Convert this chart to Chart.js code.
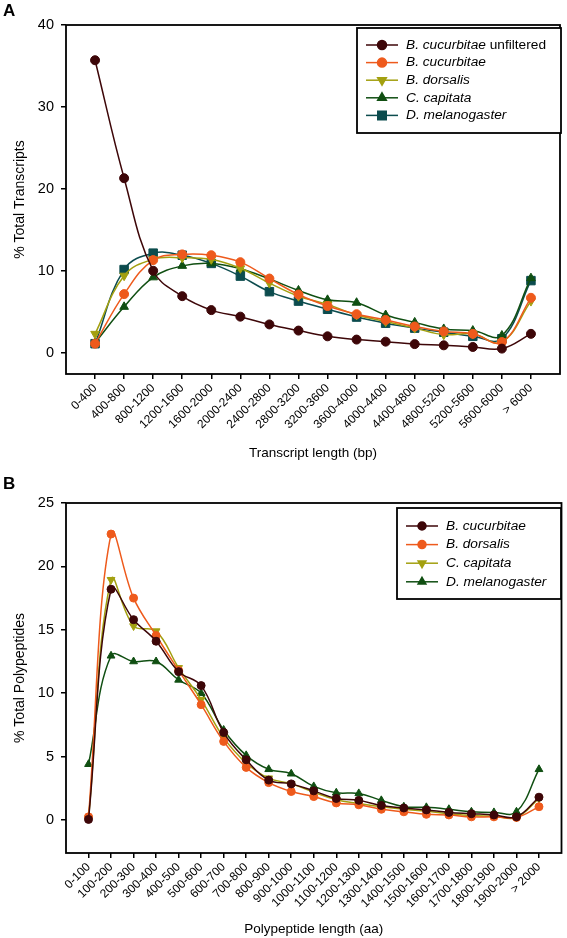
<!DOCTYPE html>
<html>
<head>
<meta charset="utf-8">
<script src="https://cdn.jsdelivr.net/npm/chart.js@4"></script>
<style>
  body { margin: 0; background: #fff; width: 567px; height: 938px; position: relative; overflow: hidden; font-family: "Liberation Sans", Arial, sans-serif; }
  .panel { position: absolute; left: 0; width: 567px; }
  .tag { position: absolute; left: 3px; font-weight: bold; font-size: 17px; line-height: 18px; }
</style>
</head>
<body>
<div class="panel" style="top:0;height:470px"><canvas id="graf_A"></canvas></div>
<div class="panel" style="top:470px;height:468px"><canvas id="graf_B"></canvas></div>
<div class="tag" style="top:2px">A</div>
<div class="tag" style="top:475px">B</div>

<script>
// panel A - transcript length
const catsA = ['0-400', '400-800', '800-1200', '1200-1600', '1600-2000', '2000-2400', '2400-2800', '2800-3200',
  '3200-3600', '3600-4000', '4000-4400', '4400-4800', '4800-5200', '5200-5600', '5600-6000', '> 6000']
const unfiltA = [35.7, 21.3, 10.0, 6.9, 5.2, 4.4, 3.45, 2.7, 2.0, 1.6, 1.35, 1.05, 0.9, 0.7, 0.5, 2.3]
const bcucA = [1.1, 7.15, 11.3, 12.0, 11.9, 11.05, 9.05, 7.1, 5.7, 4.7, 4.0, 3.2, 2.6, 2.3, 1.3, 6.7]
const bdorsA = [2.3, 9.4, 11.4, 11.6, 11.4, 10.3, 8.5, 6.9, 5.9, 4.6, 3.8, 3.0, 2.2, 2.3, 1.3, 6.3]
const ccapA = [1.2, 5.6, 9.2, 10.6, 10.9, 10.25, 9.0, 7.6, 6.45, 6.1, 4.6, 3.7, 2.9, 2.7, 2.1, 9.1]
const dmelA = [1.1, 10.15, 12.15, 11.9, 10.9, 9.35, 7.45, 6.3, 5.3, 4.35, 3.6, 3.0, 2.5, 2.0, 1.7, 8.8]
const yTicksA = [0, 10, 20, 30, 40]

// panel B - polypeptide length
const catsB = ['0-100', '100-200', '200-300', '300-400', '400-500', '500-600', '600-700', '700-800', '800-900',
  '900-1000', '1000-1100', '1100-1200', '1200-1300', '1300-1400', '1400-1500', '1500-1600', '1600-1700',
  '1700-1800', '1800-1900', '1900-2000', '> 2000']
const bcucB = [0.05, 18.2, 15.8, 14.1, 11.7, 10.6, 6.9, 4.75, 3.15, 2.85, 2.3, 1.7, 1.55, 1.15, 0.95, 0.8, 0.6, 0.5, 0.4, 0.25, 1.8]
const bdorsB = [0.25, 22.55, 17.5, 14.55, 11.8, 9.1, 6.2, 4.15, 2.95, 2.25, 1.85, 1.35, 1.2, 0.85, 0.65, 0.45, 0.4, 0.25, 0.25, 0.2, 1.05]
const ccapB = [0.15, 18.95, 15.3, 14.9, 12.0, 9.5, 6.5, 4.5, 3.3, 2.85, 2.2, 1.6, 1.3, 1.05, 0.85, 0.7, 0.5, 0.35, 0.3, 0.2, 1.7]
const dmelB = [4.4, 12.95, 12.5, 12.5, 11.05, 10.0, 7.1, 5.1, 4.0, 3.65, 2.65, 2.15, 2.1, 1.55, 1.05, 1.0, 0.85, 0.65, 0.6, 0.65, 4.0]
const yTicksB = [0, 5, 10, 15, 20, 25]

const maroon = '#3d0608'
const orange = '#ee5a1c'
const olive = '#a3a010'
const green = '#104f12'
const teal = '#0c4c4e'

const FONT = '"Liberation Sans", Arial, sans-serif'

function serie(nome, extra, valores, cor, estilo, raio, rot) {
  return {
    label: nome,
    extra: extra,
    data: valores.map((v, i) => ({ x: i, y: v })),
    borderColor: cor,
    backgroundColor: cor,
    pointBackgroundColor: cor,
    pointBorderColor: cor,
    pointStyle: estilo,
    pointRadius: raio,
    pointRotation: rot || 0,
    pointBorderWidth: 1,
    borderWidth: 1.5,
    tension: 0.4
  }
}

// frame round the plot area + legend box inside it
const moldura = {
  id: 'moldura',
  afterDraw(chart, args, opts) {
    const ctx = chart.ctx
    const a = chart.chartArea
    ctx.save()
    ctx.strokeStyle = '#000'
    ctx.lineWidth = 1.8
    ctx.strokeRect(a.left, a.top, a.right - a.left, a.bottom - a.top)

    const lg = opts.legenda
    ctx.fillStyle = '#fff'
    ctx.fillRect(lg.x, lg.y, lg.w, lg.h)
    ctx.lineWidth = 1.8
    ctx.strokeRect(lg.x, lg.y, lg.w, lg.h)
    chart.data.datasets.forEach((ds, i) => {
      const y = lg.y0 + i * lg.passo
      ctx.strokeStyle = ds.borderColor
      ctx.lineWidth = 1.5
      ctx.beginPath()
      ctx.moveTo(lg.x1, y)
      ctx.lineTo(lg.x2, y)
      ctx.stroke()
      ctx.fillStyle = ds.borderColor
      ctx.strokeStyle = ds.borderColor
      Chart.helpers.drawPoint(ctx, { pointStyle: ds.pointStyle, radius: ds.pointRadius, rotation: ds.pointRotation, borderWidth: 1 }, (lg.x1 + lg.x2) / 2, y)
      ctx.fillStyle = '#000'
      ctx.textBaseline = 'middle'
      ctx.font = 'italic 13.7px ' + FONT
      ctx.fillText(ds.label, lg.tx, y)
      if (ds.extra) {
        const w = ctx.measureText(ds.label).width
        ctx.font = '13.7px ' + FONT
        ctx.fillText(ds.extra, lg.tx + w, y)
      }
    })
    ctx.restore()
  }
}

function criarGraf(id, cats, datasets, yMin, yMax, yTicks, xTitulo, yTitulo, cfg) {
  return new Chart(document.getElementById(id), {
    type: 'line',
    data: { datasets: datasets },
    plugins: [moldura],
    options: {
      responsive: true,
      maintainAspectRatio: false,
      animation: false,
      layout: { padding: { top: cfg.top, right: 4, left: 0, bottom: 0 } },
      plugins: {
        legend: { display: false },
        tooltip: { enabled: false },
        moldura: { legenda: cfg.legenda }
      },
      scales: {
        x: {
          type: 'linear',
          min: -1,
          max: cats.length,
          afterBuildTicks: (s) => { s.ticks = cats.map((c, i) => ({ value: i })) },
          afterFit: (s) => { s.height = cfg.xAltura },
          border: { display: false },
          grid: { drawOnChartArea: false, drawTicks: true, tickLength: 5, color: '#000', lineWidth: 1.5 },
          ticks: {
            autoSkip: false,
            maxRotation: 45,
            minRotation: 45,
            padding: 2,
            color: '#000',
            font: { family: FONT, size: 12 },
            callback: (v) => cats[v]
          },
          title: { display: true, text: xTitulo, color: '#000', font: { family: FONT, size: 13.5 }, padding: { top: 0, bottom: cfg.xTitPad } }
        },
        y: {
          min: yMin,
          max: yMax,
          afterBuildTicks: (s) => { s.ticks = yTicks.map(v => ({ value: v })) },
          afterFit: (s) => { s.width = 66 },
          border: { display: false },
          grid: { drawOnChartArea: false, drawTicks: true, tickLength: 5, color: '#000', lineWidth: 1.5 },
          ticks: { padding: 7, color: '#000', font: { family: FONT, size: 14.5 } },
          title: { display: true, text: yTitulo, color: '#000', font: { family: FONT, size: 14 }, padding: { top: 12, bottom: 0 } }
        }
      }
    }
  })
}

criarGraf('graf_A', catsA, [
  serie('B. cucurbitae', ' unfiltered', unfiltA, maroon, 'circle', 4.5),
  serie('B. cucurbitae', '', bcucA, orange, 'circle', 4.5),
  serie('B. dorsalis', '', bdorsA, olive, 'triangle', 5, 180),
  serie('C. capitata', '', ccapA, green, 'triangle', 5),
  serie('D. melanogaster', '', dmelA, teal, 'rect', 6)
], -2.6, 40, yTicksA, 'Transcript length (bp)', '% Total Transcripts', {
  top: 25, xAltura: 96, xTitPad: 9,
  legenda: { x: 357, y: 28, w: 204, h: 105, y0: 45, passo: 17.6, x1: 366, x2: 398, tx: 406 }
})

criarGraf('graf_B', catsB, [
  serie('B. cucurbitae', '', bcucB, maroon, 'circle', 4),
  serie('B. dorsalis', '', bdorsB, orange, 'circle', 4),
  serie('C. capitata', '', ccapB, olive, 'triangle', 4.5, 180),
  serie('D. melanogaster', '', dmelB, green, 'triangle', 4.5)
], -2.6, 25, yTicksB, 'Polypeptide length (aa)', '% Total Polypeptides', {
  top: 33, xAltura: 85, xTitPad: 1,
  legenda: { x: 397, y: 38, w: 164, h: 91, y0: 56, passo: 18.6, x1: 406, x2: 438, tx: 446 }
})
</script>
</body>
</html>
